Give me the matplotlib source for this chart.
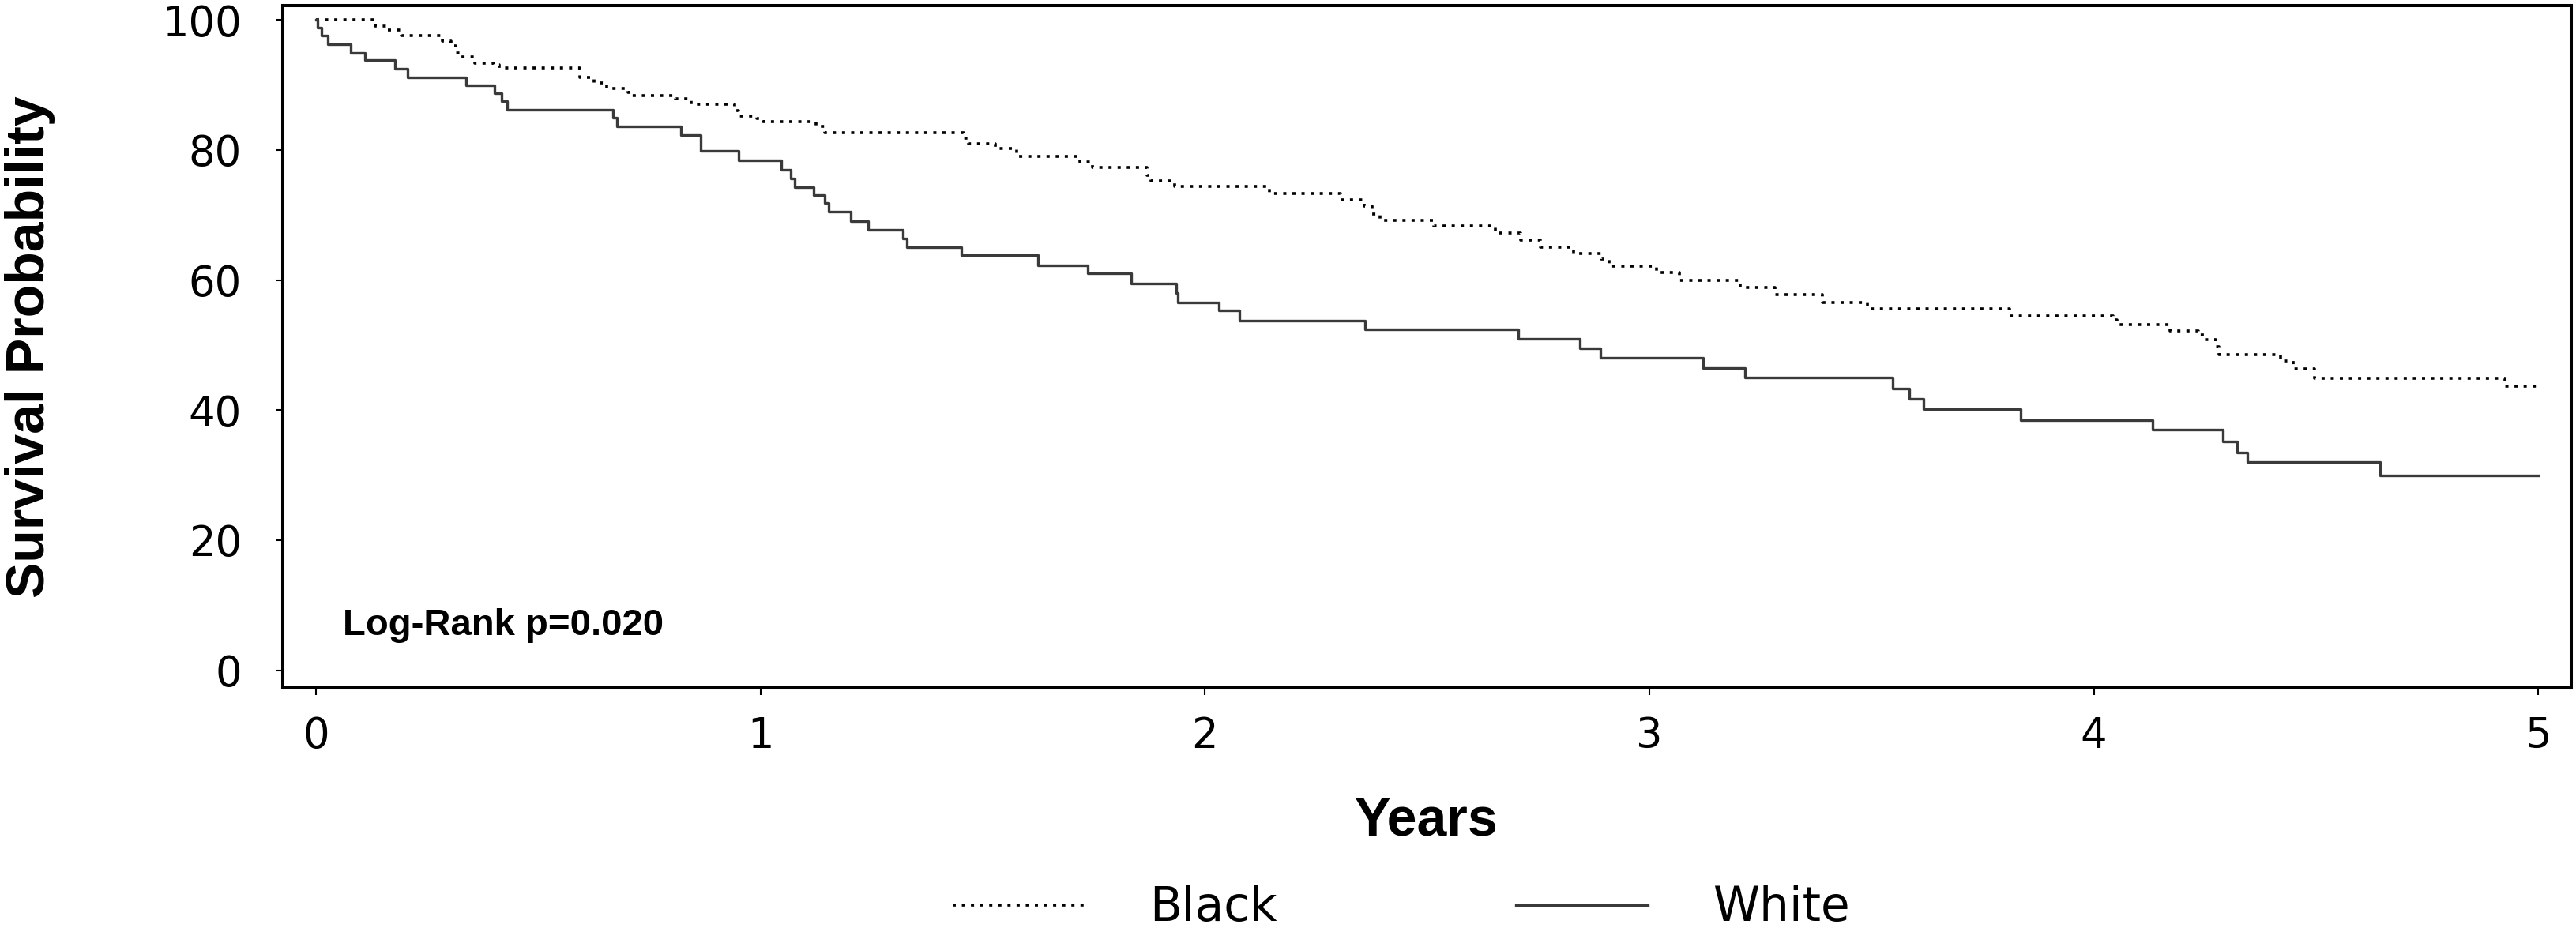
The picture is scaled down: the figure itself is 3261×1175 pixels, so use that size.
import matplotlib
matplotlib.use('Agg')
import matplotlib.pyplot as plt

# Kaplan-Meier curves (years, survival %)
black_t = [0, 0.133, 0.160, 0.193, 0.284, 0.305, 0.314, 0.326, 0.358, 0.400, 0.412,
           0.593, 0.625, 0.655, 0.702, 0.711, 0.809, 0.844, 0.942, 0.951, 0.992,
           1.007, 1.126, 1.144, 1.458, 1.469, 1.529, 1.576, 1.718, 1.748, 1.869,
           1.878, 1.932, 2.145, 2.305, 2.358, 2.376, 2.394, 2.515, 2.654, 2.711,
           2.755, 2.829, 2.891, 2.909, 3.016, 3.067, 3.205, 3.282, 3.390, 3.490,
           3.810, 4.043, 4.052, 4.171, 4.236, 4.248, 4.275, 4.281, 4.420, 4.449,
           4.496, 4.924, 5.0]
black_s = [100, 99.1, 98.4, 97.6, 96.8, 96.0, 94.9, 94.3, 93.4, 93.1, 92.6,
           91.1, 90.3, 89.4, 88.9, 88.4, 87.9, 87.0, 86.1, 85.2, 84.8,
           84.4, 83.6, 82.7, 81.8, 81.0, 80.2, 79.0, 78.1, 77.3, 76.1,
           75.3, 74.4, 73.3, 72.3, 71.3, 70.2, 69.2, 68.3, 67.2, 66.1,
           65.1, 64.1, 63.2, 62.1, 61.1, 59.9, 58.8, 57.8, 56.6, 55.6,
           54.5, 53.9, 53.2, 52.2, 51.6, 50.8, 49.8, 48.5, 47.5, 46.3,
           44.9, 43.7, 43.7]

white_t = [0, 0.003, 0.012, 0.027, 0.079, 0.110, 0.178, 0.206, 0.338, 0.402, 0.418,
           0.430, 0.668, 0.678, 0.822, 0.865, 0.951, 1.047, 1.069, 1.077, 1.120,
           1.144, 1.154, 1.203, 1.242, 1.320, 1.330, 1.453, 1.625, 1.736, 1.834,
           1.936, 1.940, 2.032, 2.078, 2.361, 2.705, 2.843, 2.890, 3.121, 3.216,
           3.548, 3.585, 3.616, 3.835, 4.133, 4.290, 4.322, 4.345, 4.644, 5.0]
white_s = [100, 98.8, 97.6, 96.3, 94.9, 93.8, 92.5, 91.2, 90.0, 88.7, 87.5,
           86.2, 85.0, 83.6, 82.3, 79.8, 78.4, 76.9, 75.6, 74.3, 73.1,
           71.9, 70.5, 69.1, 67.7, 66.4, 65.1, 63.8, 62.2, 61.0, 59.4,
           58.0, 56.6, 55.3, 53.8, 52.4, 51.0, 49.5, 48.0, 46.5, 45.0,
           43.3, 41.7, 40.2, 38.5, 37.0, 35.2, 33.5, 32.0, 30.0, 30.0]

x_ticks = [0, 1, 2, 3, 4, 5]
y_ticks = [0, 20, 40, 60, 80, 100]
groups = ['Black', 'White']
p_text = 'Log-Rank p=0.020'

fig = plt.figure(figsize=(32.62, 11.75), dpi=100)
ax = fig.add_axes([0.1097, 0.2589, 0.998 - 0.1097, 0.994 - 0.2589])

l_black, = ax.step(black_t, black_s, where='post', color='black', lw=2.6,
                   linestyle=(0, (1.1, 2.1)), label=groups[0])
l_white, = ax.step(white_t, white_s, where='post', color='#3a3a3a', lw=2.4,
                   label=groups[1])

ax.set_xlim(-0.0747, 5.075)
ax.set_ylim(-2.7, 102.2)
ax.set_xticks(x_ticks)
ax.set_yticks(y_ticks)
for sp in ax.spines.values():
    sp.set_linewidth(2.9)
ax.tick_params(axis='both', length=6.5, width=1.5, labelsize=38)
ax.tick_params(axis='x', pad=18.5)
ax.tick_params(axis='y', pad=31)
for lab in ax.get_xticklabels() + ax.get_yticklabels():
    lab.set_family('DejaVu Sans')

ax.text(0.0614, 5.4, p_text, fontsize=34, fontweight='bold',
        family='Liberation Sans', ha='left', va='baseline')

fig.text(0.01165, 1 - 439 / 1175, 'Survival Probability', rotation=90,
         fontsize=49, fontweight='bold', family='Liberation Sans',
         ha='center', va='center')
fig.text(0.5534, 1 - 1057 / 1175, 'Years', fontsize=49, fontweight='bold',
         family='Liberation Sans', ha='center', va='baseline')

fig.legend(handles=[l_black, l_white], labels=groups, loc='center',
           bbox_to_anchor=(0.5437, 0.0213), ncol=2, frameon=False,
           prop={'family': 'DejaVu Sans', 'size': 43},
           handlelength=2.81, handletextpad=1.36, columnspacing=5.06,
           borderpad=0, borderaxespad=0)

fig.savefig('out.png', dpi=100)
